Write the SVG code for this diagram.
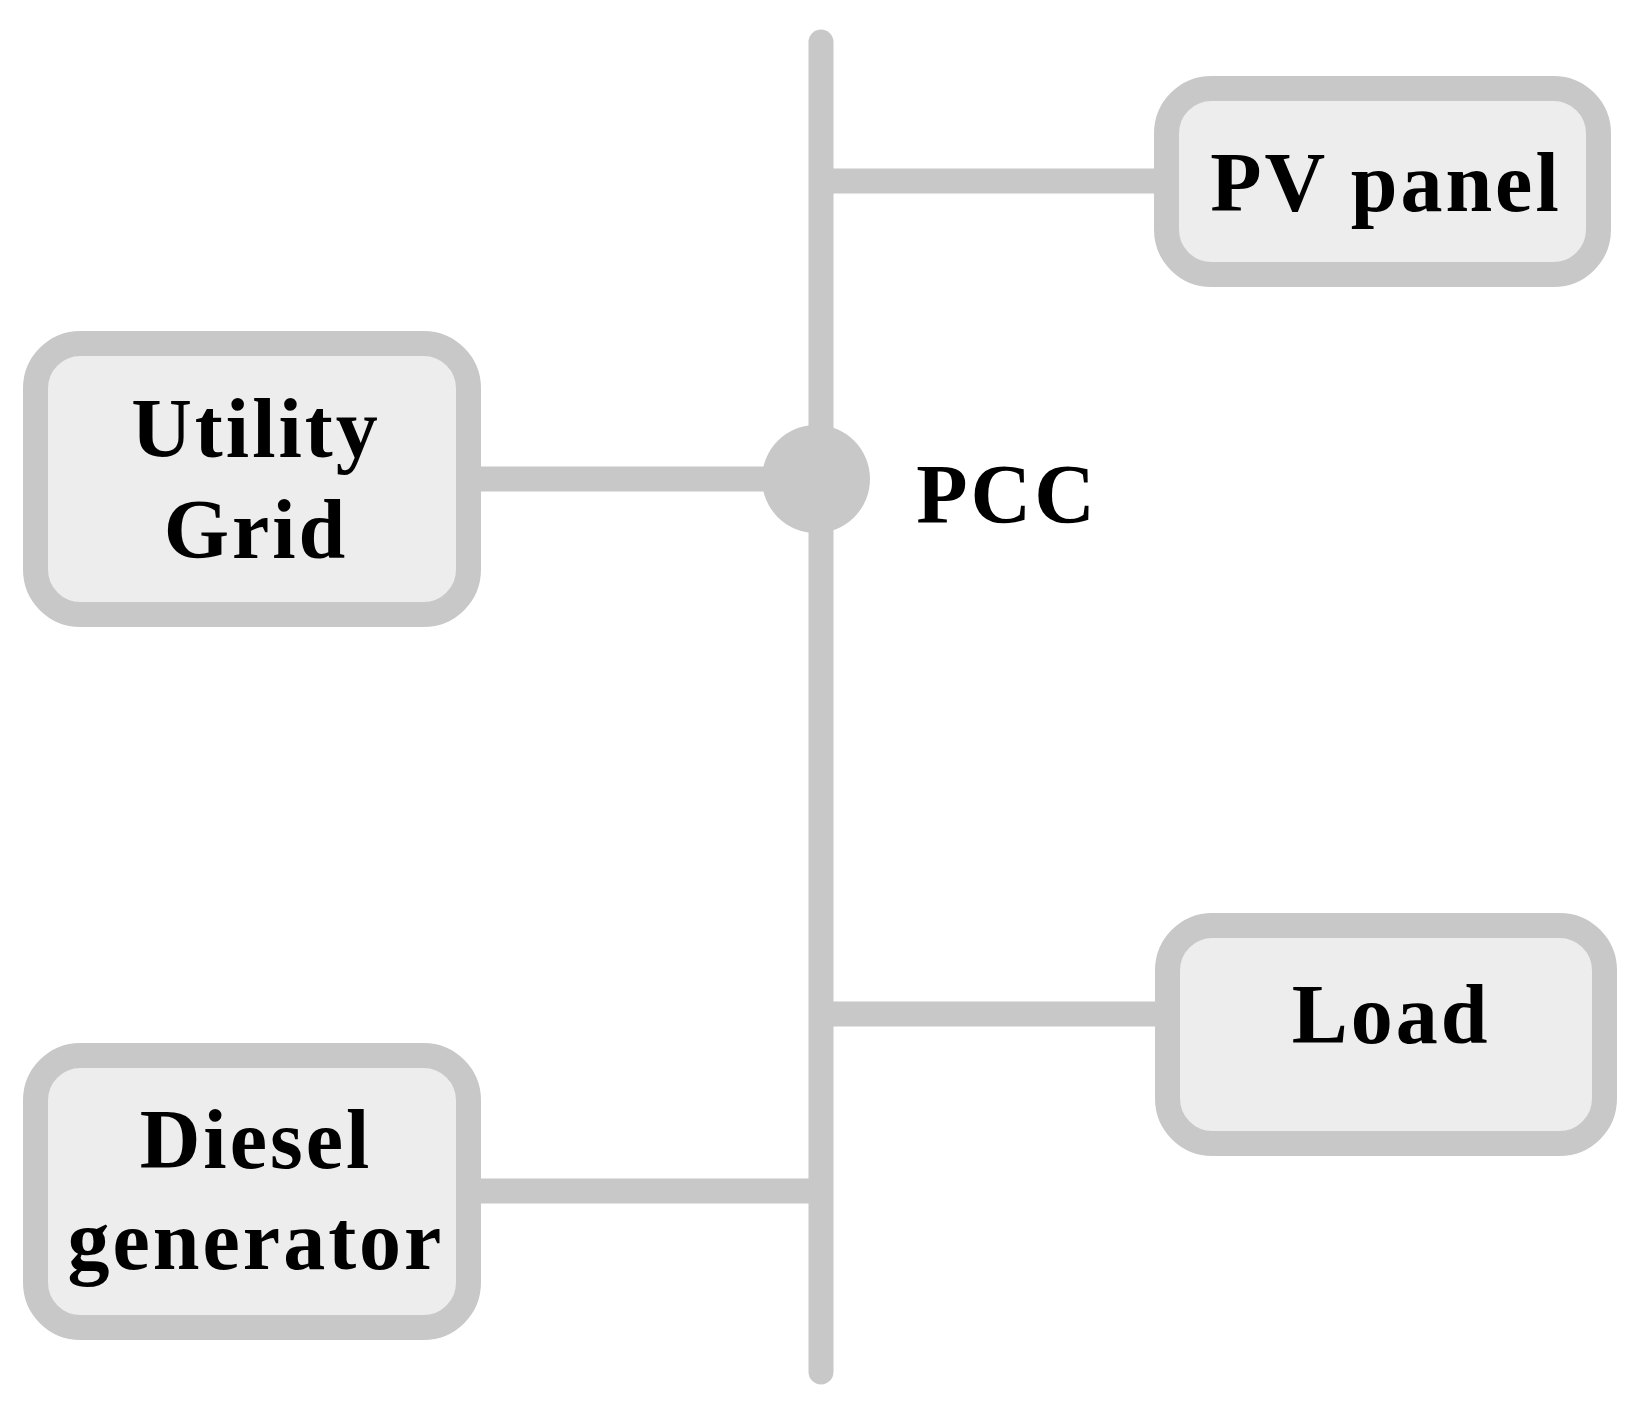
<svg xmlns="http://www.w3.org/2000/svg" width="1632" height="1401" viewBox="0 0 1632 1401">
<style>
.box{fill:#ededed;stroke:#c8c8c8;stroke-width:25}
.ln{stroke:#c8c8c8;stroke-width:25;fill:none}
text{font-family:"Liberation Serif",serif;font-weight:bold;font-size:84px;fill:#000;text-anchor:middle;letter-spacing:3px}
</style>
<rect width="1632" height="1401" fill="#fff"/>
<g id="connectors">
<line class="ln" x1="821" y1="42" x2="821" y2="1372" stroke-linecap="round"/>
<line class="ln" x1="821" y1="181" x2="1160" y2="181"/>
<line class="ln" x1="475" y1="479" x2="816" y2="479"/>
<line class="ln" x1="821" y1="1014" x2="1160" y2="1014"/>
<line class="ln" x1="475" y1="1191" x2="821" y2="1191"/>
</g>
<g id="pcc"><circle cx="816" cy="479" r="54" fill="#c8c8c8"/><text x="1007" y="523">PCC</text></g>
<g id="pv"><rect class="box" x="1166.5" y="88.5" width="432" height="186" rx="45"/><text x="1386" y="211">PV panel</text></g>
<g id="grid"><rect class="box" x="35.5" y="343.5" width="433" height="271" rx="45"/><text x="256" y="457">Utility</text><text x="256" y="558">Grid</text></g>
<g id="load"><rect class="box" x="1167.5" y="925.5" width="437" height="218" rx="45"/><text x="1391" y="1043">Load</text></g>
<g id="diesel"><rect class="box" x="35.5" y="1055.5" width="433" height="272" rx="45"/><text x="256" y="1168">Diesel</text><text x="256" y="1269">generator</text></g>
</svg>
